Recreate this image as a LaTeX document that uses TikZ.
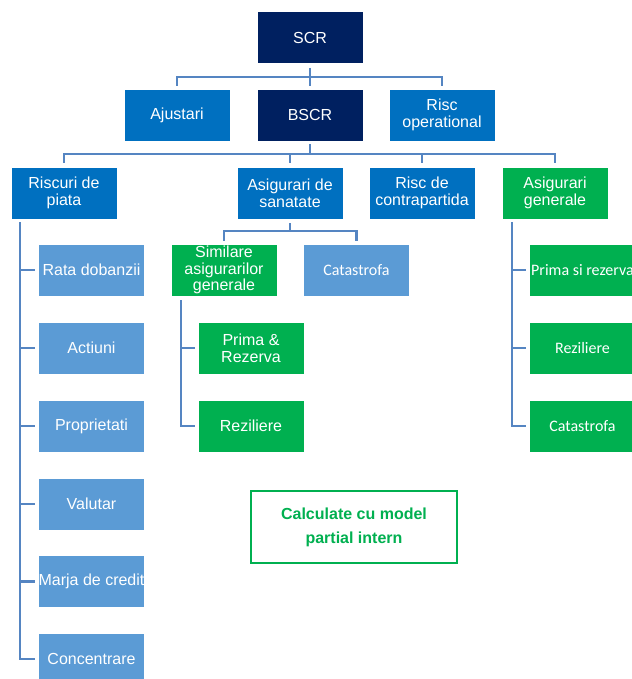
\documentclass[tikz,border=0pt]{standalone}
\usepackage{fontspec}
\setmainfont{Liberation Sans}
\newfontfamily\calib{Carlito}
\definecolor{navy}{HTML}{002060}
\definecolor{midblue}{HTML}{0070C0}
\definecolor{lightblue}{HTML}{5B9BD5}
\definecolor{grn}{HTML}{00B050}
\definecolor{connc}{HTML}{5585C2}
\tikzset{
  box/.style={minimum width=79.5pt, minimum height=39pt, inner sep=0pt, align=center,
    text=white, font=\fontsize{12pt}{12.6pt}\selectfont, draw=white, line width=0.4pt},
  navybox/.style={box, fill=navy},
  bluebox/.style={box, fill=midblue},
  lightbox/.style={box, fill=lightblue},
  greenbox/.style={box, fill=grn},
  cal/.style={font=\calib\fontsize{12pt}{12.6pt}\selectfont},
  conn/.style={draw=connc, line width=1.8pt},
}
\begin{document}
\begin{tikzpicture}[x=0.75pt, y=-0.75pt]
\path[use as bounding box, clip] (0,0) rectangle (632,679);
\fill[white] (0,0) rectangle (632,679);

% level 1
\node[navybox] (scr) at (310,37.5) {SCR};
% level 2
\node[bluebox] (ajust) at (177,115) {Ajustari};
\node[navybox] (bscr) at (310,115) {BSCR};
\node[bluebox] (riscop) at (442,115) {Risc\\operational};
% level 3
\node[bluebox] (piata) at (64,193) {Riscuri de\\piata};
\node[bluebox] (sanat) at (290,193) {Asigurari de\\sanatate};
\node[bluebox] (contra) at (422,193) {Risc de\\contrapartida};
\node[greenbox] (general) at (555,193) {Asigurari\\generale};
% left column
\node[lightbox] (rata) at (91.5,270) {Rata dobanzii};
\node[lightbox] (actiuni) at (91.5,348) {Actiuni};
\node[lightbox] (propr) at (91.5,426) {Proprietati};
\node[lightbox] (valutar) at (91.5,504) {Valutar};
\node[lightbox] (marja) at (91.5,581.5) {Marja de credit};
\node[lightbox] (concen) at (91.5,659) {Concentrare};
% health
\node[greenbox] (similare) at (224,270) {Similare\\asigurarilor\\generale};
\node[lightbox, cal] (catas) at (356.5,270) {Catastrofa};
\node[greenbox] (prima) at (251,348) {Prima \&\\Rezerva};
\node[greenbox] (rezil) at (251,426) {Reziliere};
% general
\node[greenbox, cal] (primag) at (582.5,270) {Prima si rezerva};
\node[greenbox, cal] (rezilg) at (582.5,348) {Reziliere};
\node[greenbox, cal] (catasg) at (582.5,426) {Catastrofa};
% legend
\node[draw=grn, line width=1.6pt, minimum width=154.5pt, minimum height=54pt, inner sep=0pt,
  align=center, text=grn, font=\bfseries\fontsize{12pt}{18pt}\selectfont] (legend) at (354,527)
  {Calculate cu model\\partial intern};

% connectors
\coordinate (h1) at (310,77);
\draw[conn] ([yshift=-3pt]scr.south) -- (h1);
\draw[conn] ([yshift=2.25pt]ajust.north) |- (h1) -| ([yshift=2.25pt]riscop.north);
\draw[conn] (h1) -- ([yshift=2.25pt]bscr.north);

\coordinate (h2) at (310,154);
\draw[conn] ([yshift=-2.25pt]bscr.south) -- (h2);
\draw[conn] ([yshift=3pt]piata.north) |- (h2) -| ([yshift=3pt]general.north);
\draw[conn] ([yshift=3pt]sanat.north) -- (sanat.north |- h2);
\draw[conn] ([yshift=3pt]contra.north) -- (contra.north |- h2);

\coordinate (h3) at (290,231);
\draw[conn] ([yshift=-3pt]sanat.south) -- (h3);
\draw[conn] ([yshift=2.25pt]similare.north) |- (h3) -| ([yshift=2.25pt]catas.north);

% left column spine
\coordinate (sp1) at (20,222);
\draw[conn] (sp1) |- ([xshift=-2.25pt]concen.west);
\foreach \n in {rata,actiuni,propr,valutar,marja}
  \draw[conn] (sp1 |- \n.west) -- ([xshift=-2.25pt]\n.west);

% health spine
\coordinate (sp2) at (181,300);
\draw[conn] (sp2) |- ([xshift=-2.25pt]rezil.west);
\draw[conn] (sp2 |- prima.west) -- ([xshift=-2.25pt]prima.west);

% general spine
\coordinate (sp3) at (512,222);
\draw[conn] (sp3) |- ([xshift=-2.25pt]catasg.west);
\foreach \n in {primag,rezilg}
  \draw[conn] (sp3 |- \n.west) -- ([xshift=-2.25pt]\n.west);
\end{tikzpicture}
\end{document}
